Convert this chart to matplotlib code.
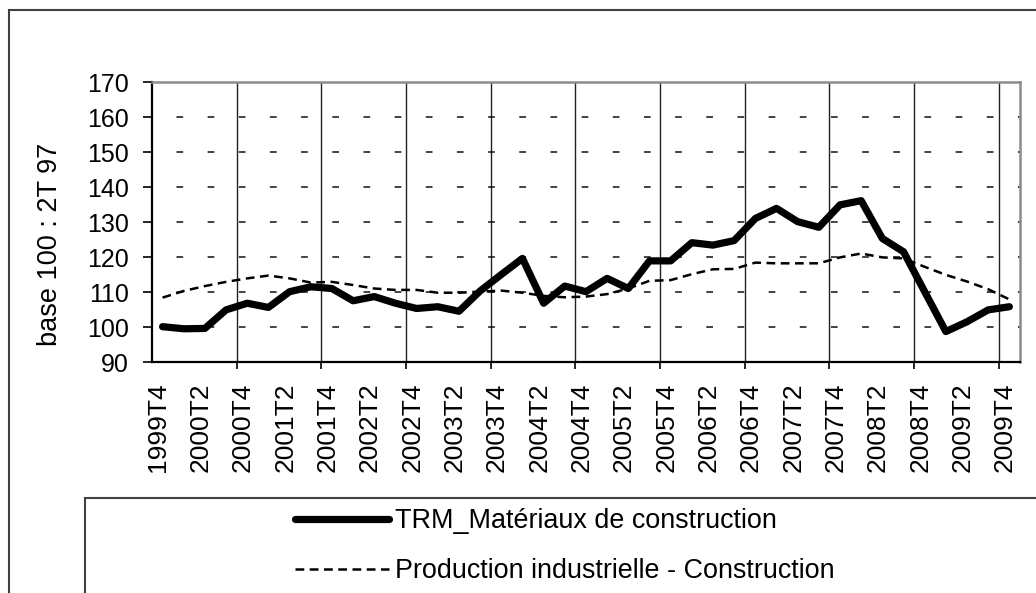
import matplotlib.pyplot as plt
from matplotlib.patches import Rectangle

# categories (quarters)
quarters = ["1999T4",
            "2000T1", "2000T2", "2000T3", "2000T4",
            "2001T1", "2001T2", "2001T3", "2001T4",
            "2002T1", "2002T2", "2002T3", "2002T4",
            "2003T1", "2003T2", "2003T3", "2003T4",
            "2004T1", "2004T2", "2004T3", "2004T4",
            "2005T1", "2005T2", "2005T3", "2005T4",
            "2006T1", "2006T2", "2006T3", "2006T4",
            "2007T1", "2007T2", "2007T3", "2007T4",
            "2008T1", "2008T2", "2008T3", "2008T4",
            "2009T1", "2009T2", "2009T3", "2009T4"]

# TRM_Materiaux de construction (base 100 : 2T 97)
trm = [100.1, 99.5, 99.6, 104.9, 106.8, 105.6, 110.1, 111.5, 111.0, 107.5,
       108.7, 106.8, 105.3, 105.8, 104.5, 110.3, 115.0, 119.6, 106.8, 111.7,
       110.1, 113.9, 111.0, 118.9, 118.9, 124.1, 123.4, 124.7, 131.0, 133.9,
       130.1, 128.5, 134.9, 136.1, 125.3, 121.5, 110.1, 98.7, 101.5, 104.9,
       105.8]

# Production industrielle - Construction
prod = [108.4, 110.3, 111.7, 112.9, 113.9, 114.7, 113.9, 112.7, 112.9, 112.0,
        111.0, 110.6, 110.6, 109.8, 109.8, 110.1, 110.4, 109.8, 108.9, 108.5,
        108.7, 109.4, 111.0, 113.2, 113.4, 115.1, 116.5, 116.6, 118.4, 118.2,
        118.2, 118.2, 119.9, 121.0, 119.9, 119.6, 117.2, 114.9, 113.0, 110.8,
        107.9]

yticks = [90, 100, 110, 120, 130, 140, 150, 160, 170]


def plot_chart():
    plt.rcParams["font.family"] = ["Liberation Sans", "DejaVu Sans"]
    fig = plt.figure(figsize=(10.36, 5.93), dpi=100)
    ax = fig.add_axes([0.1467, 0.3895, 0.8378, 0.4722])

    x = list(range(len(quarters)))
    ax.plot(x, trm, color="black", lw=5.2, solid_joinstyle="round",
            solid_capstyle="round", label="TRM_Matériaux de construction",
            zorder=4)
    ax.plot(x, prod, color="black", lw=1.8, ls=(0, (3.5, 2.2)),
            label="Production industrielle - Construction", zorder=3)

    ax.set_xlim(-0.5, len(quarters) - 0.5)
    ax.set_ylim(90, 170)
    ax.set_yticks(yticks)
    ax.tick_params(axis="y", labelsize=18, length=6.5, width=1.2, pad=10)

    # labels every 2 quarters, grid lines every 4 (category boundaries)
    lab_pos = [i - 0.2 for i in x[::2]]
    ax.set_xticks(lab_pos)
    ax.set_xticklabels(quarters[::2], rotation=90, ha="center", va="top")
    ax.set_xticks([i + 3.5 for i in x[::4]][:-1], minor=True)
    ax.tick_params(axis="x", which="major", labelsize=19, length=0, pad=15)
    ax.tick_params(axis="x", which="minor", length=5, width=1.2)

    ax.xaxis.grid(True, which="minor", color="#222222", lw=1.0, ls="-")
    ax.yaxis.grid(True, which="major", color="#111111", lw=1.1,
                  ls=(4.4, (4.4, 16)))

    for s in ["left", "bottom"]:
        ax.spines[s].set_color("black")
        ax.spines[s].set_linewidth(1.6)
    for s in ["top", "right"]:
        ax.spines[s].set_color("#8c8c8c")
        ax.spines[s].set_linewidth(1.8)

    ax.set_ylabel("base 100 : 2T 97", fontsize=19.5)
    ax.yaxis.set_label_coords(-0.1025, 0.42)

    # outer chart frame and legend frame (both run off the picture)
    fig.add_artist(Rectangle((9 / 1036, -0.2), 1.2, 1.2 - 9.5 / 593,
                             transform=fig.transFigure, fill=False,
                             ec="#404040", lw=1.5))
    fig.add_artist(Rectangle((85 / 1036, -0.2), 1.2, 0.2 + 1 - 498 / 593,
                             transform=fig.transFigure, fill=False,
                             ec="#404040", lw=1.5))

    ax.legend(loc="upper left", bbox_to_anchor=(295 / 1036, 1 - 508 / 593),
              bbox_transform=fig.transFigure, frameon=False, fontsize=19.4,
              handlelength=3.5, handletextpad=0.2, labelspacing=0.89,
              borderpad=0, borderaxespad=0)

    fig.savefig("out.png", dpi=100)
    plt.close()


def main():
    plot_chart()


main()
